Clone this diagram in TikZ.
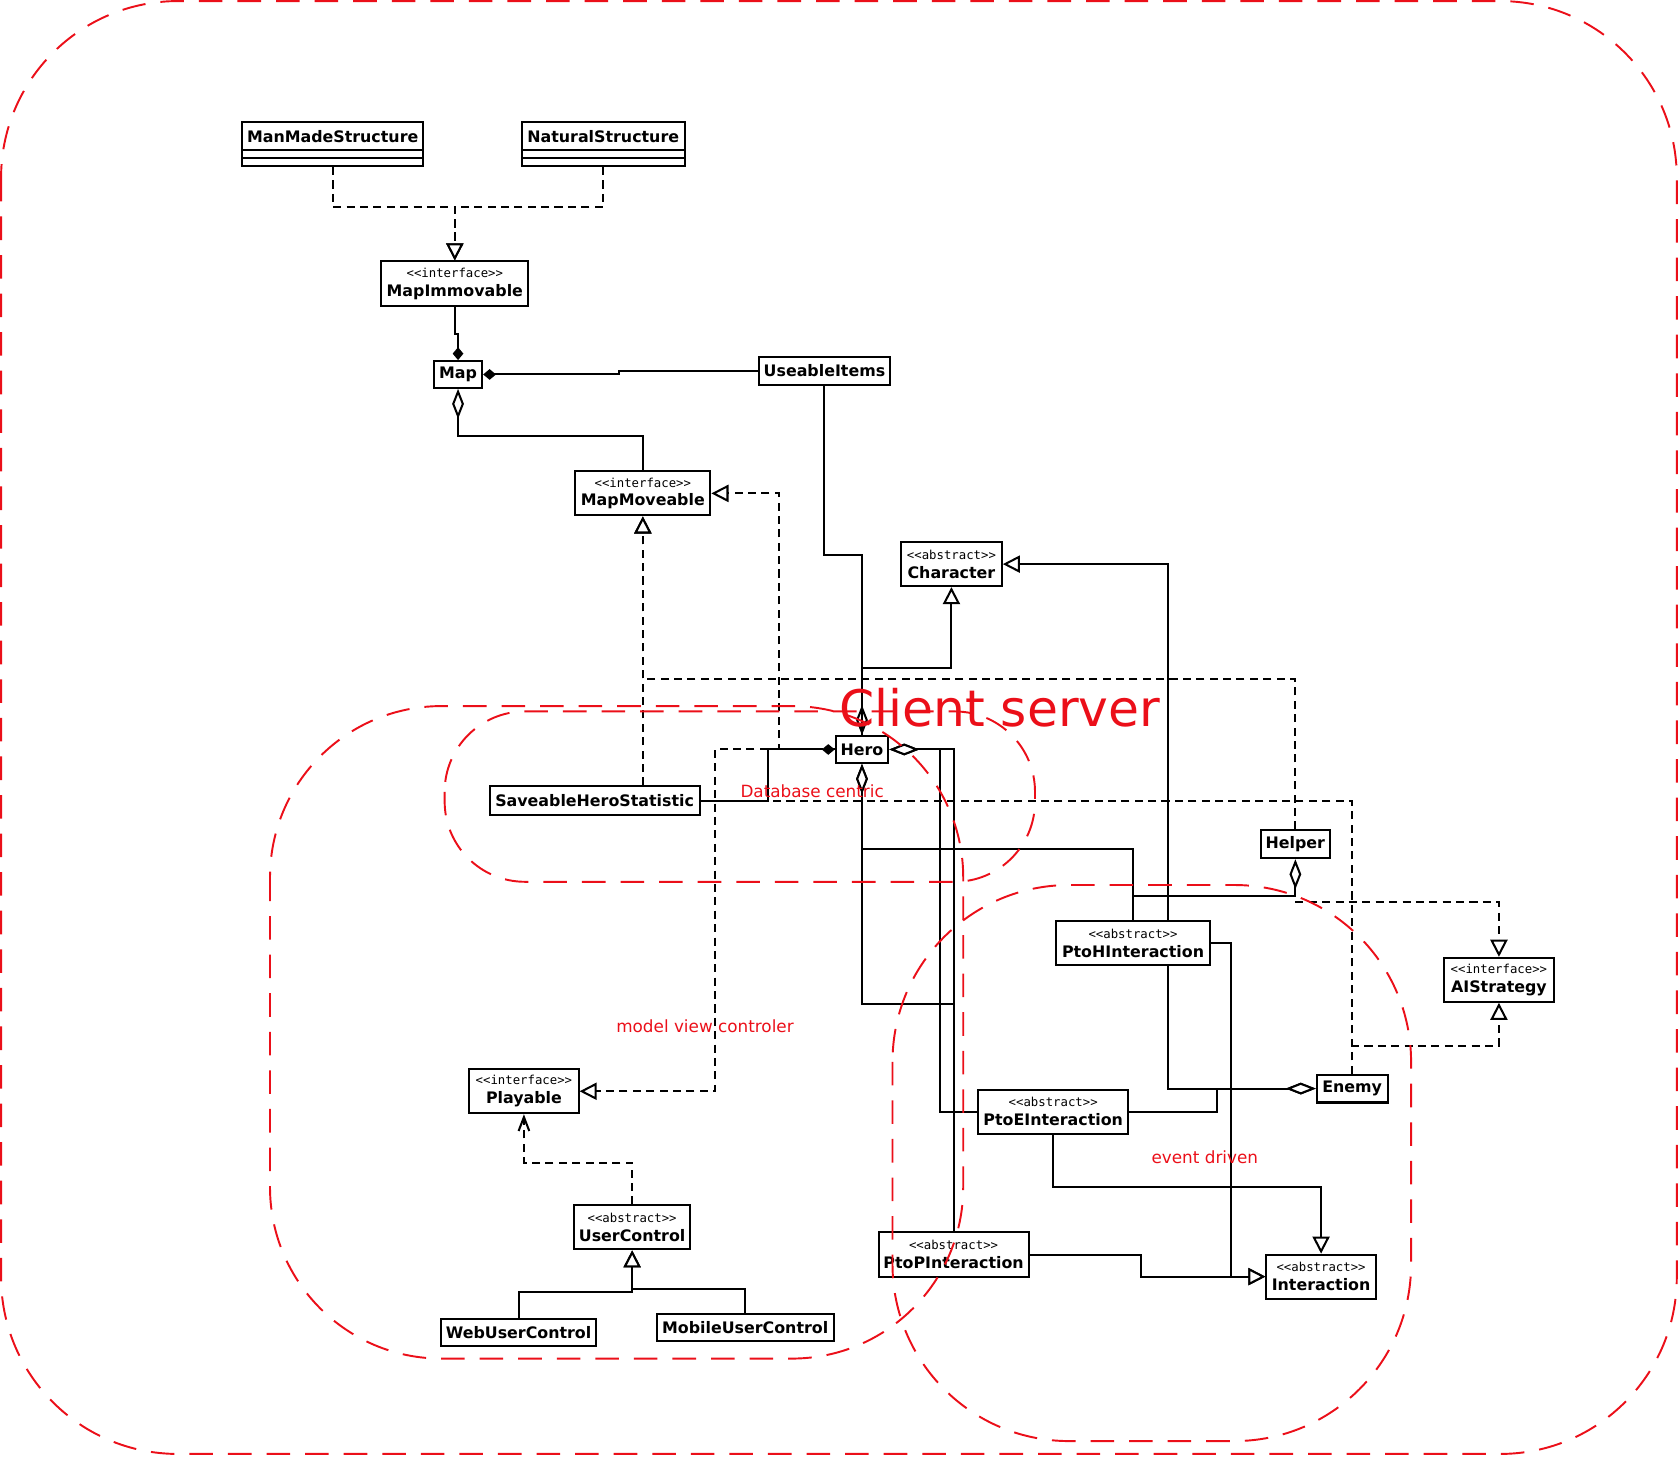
\documentclass[tikz,border=0pt]{standalone}
\usepackage{fontspec}
\setmainfont{DejaVu Sans}
\newfontfamily\stfam{DejaVu Sans Mono}
\usetikzlibrary{arrows.meta,backgrounds}
\definecolor{rd}{RGB}{235,15,25}
\newcommand\stf{\stfam\mdseries\fontsize{11.5}{17.5}\selectfont}
\begin{document}
\begin{tikzpicture}[x=1pt,y=-1pt,
  cls/.style={draw,line width=1.9pt,fill=white,inner sep=0pt,align=center,font=\fontsize{14.8}{17.5}\selectfont\bfseries},
  ln/.style={line width=1.9pt},
  dsh/.style={line width=1.9pt,dash pattern=on 7.5pt off 5pt},
  gen/.style={-{Triangle[length=16pt,width=16pt,fill=white]}},
  comp/.style={-{Diamond[length=12pt,width=10pt]}},
  agg/.style={-{Diamond[length=28pt,width=11pt,fill=white]}},
  dep/.style={-{Straight Barb[length=13pt,width=10pt]}},
  redline/.style={draw=rd,line width=1.8pt,dash pattern=on 22pt off 14pt},
  redtext/.style={text=rd,inner sep=0pt,font=\fontsize{15.7}{18}\selectfont}
]
\useasboundingbox (0,0) rectangle (1568,1360);

% ---------- classes ----------
\node[cls,minimum width=169pt,minimum height=41pt,text height=19pt,text depth=22pt] (mms) at (310.5,134.5) {ManMadeStructure};
\node[cls,minimum width=152pt,minimum height=41pt,text height=19pt,text depth=22pt] (ns) at (563,134.5) {NaturalStructure};
\draw[ln] ([yshift=-27pt]mms.north west) -- ([yshift=-27pt]mms.north east);
\draw[ln] ([yshift=-34pt]mms.north west) -- ([yshift=-34pt]mms.north east);
\draw[ln] ([yshift=-27pt]ns.north west) -- ([yshift=-27pt]ns.north east);
\draw[ln] ([yshift=-34pt]ns.north west) -- ([yshift=-34pt]ns.north east);

\node[cls,minimum width=137pt,minimum height=42pt] (mi) at (424.5,265) {{\stf <<interface>>}\\MapImmovable};
\node[cls,minimum width=45pt,minimum height=25pt] (map) at (427.5,349.5) {Map};
\node[cls,minimum width=123pt,minimum height=26pt] (ui) at (769.5,346) {UseableItems};
\node[cls,minimum width=126pt,minimum height=41pt] (mm) at (600,460.5) {{\stf <<interface>>}\\MapMoveable};
\node[cls,minimum width=94pt,minimum height=41pt] (ch) at (888,526.5) {{\stf <<abstract>>}\\Character};
\node[cls,minimum width=49pt,minimum height=25pt] (hero) at (804.5,699.5) {Hero};
\node[cls,minimum width=196pt,minimum height=27pt] (shs) at (555,747.5) {SaveableHeroStatistic};
\node[cls,minimum width=64pt,minimum height=26pt] (helper) at (1209,788) {Helper};
\node[cls,minimum width=143pt,minimum height=41pt] (ptoh) at (1057.5,880.5) {{\stf <<abstract>>}\\PtoHInteraction};
\node[cls,minimum width=102pt,minimum height=41pt] (ai) at (1399,914.5) {{\stf <<interface>>}\\AIStrategy};
\node[cls,minimum width=66pt,minimum height=26pt] (enemy) at (1262,1016) {Enemy};
\node[cls,minimum width=140pt,minimum height=41pt] (ptoe) at (983,1037.5) {{\stf <<abstract>>}\\PtoEInteraction};
\node[cls,minimum width=102pt,minimum height=41pt] (play) at (489,1018.5) {{\stf <<interface>>}\\Playable};
\node[cls,minimum width=108pt,minimum height=41pt] (uc) at (590,1145.5) {{\stf <<abstract>>}\\UserControl};
\node[cls,minimum width=140pt,minimum height=42pt] (ptop) at (890,1171) {{\stf <<abstract>>}\\PtoPInteraction};
\node[cls,minimum width=102pt,minimum height=41pt] (inter) at (1233,1191.5) {{\stf <<abstract>>}\\Interaction};
\node[cls,minimum width=144pt,minimum height=25pt] (web) at (484,1243.5) {WebUserControl};
\node[cls,minimum width=165pt,minimum height=26pt] (mob) at (695.5,1239) {MobileUserControl};

% ---------- connectors ----------
\begin{scope}[on background layer]
\draw[dsh,gen] (mms.south) -- ++(0,37) -| (mi.north);
\draw[dsh,gen] (ns.south) -- ++(0,37) -| (mi.north);
\draw[ln,comp] (mi.south) -- ++(0,25) -| (map.north);
\draw[ln,comp] (ui.west) -| (578,349.5) -- (map.east);
\draw[ln,agg] (mm.north) -- ++(0,-32) -| (map.south);
\draw[dsh,gen] (hero.west) -- ++(-52,0) |- (mm.east);
\draw[dsh,gen] (hero.west) -- ++(-112,0) |- (play.east);
\draw[ln,comp] (shs.east) -- ++(63,0) |- (hero.west);
\draw[dsh,gen] (shs.north -| mm.south) -- (mm.south);
\draw[dsh,gen] (helper.north) -- ++(0,-140) -| (mm.south);
\draw[dsh] (enemy.north) |- (shs.east);
\draw[ln,agg] (ui.south) -- ++(0,158) -| (hero.north);
\draw[ln,gen] (hero.north) -- ++(0,-63) -| (ch.south);
\draw[ln,gen] ([xshift=32.5pt]ptoh.north) |- (ch.east);
\draw[ln,agg] ([xshift=32.5pt]ptoh.south) |- (enemy.west);
\draw[ln,agg] (ptoe.east) -- ++(82,0) |- (enemy.west);
\draw[ln,agg] (ptoh.north) -- ++(0,-67) -| (hero.south);
\draw[ln,agg] (ptop.north) -- ++(0,-212) -| (hero.south);
\draw[ln,agg] (ptop.north) |- (hero.east);
\draw[ln,agg] (ptoe.west) -- ++(-35,0) |- (hero.east);
\draw[ln,agg] (ptoh.north) -- ++(0,-23) -| (helper.south);
\draw[dsh,gen] ([yshift=-40pt]helper.south) -| (ai.north);
\draw[dsh,gen] (enemy.north) -- ++(0,-26) -| (ai.south);
\draw[ln,gen] (ptoe.south) -- ++(0,49) -| (inter.north);
\draw[ln,gen] (ptop.east) -- ++(104,0) |- (inter.west);
\draw[ln,gen] (ptoh.east) -- ++(19,0) |- (inter.west);
\draw[dsh,dep] (uc.north) -- ++(0,-39) -| (play.south);
\draw[ln,gen] (web.north) -- ++(0,-24.5) -| (uc.south);
\draw[ln,gen] (mob.north) -- ++(0,-22) -| (uc.south);
\end{scope}

% ---------- red regions ----------
\draw[redline,rounded corners=165pt] (1,1) rectangle (1565,1357);
\draw[redline,rounded corners=75pt] (415,664) rectangle (966,823);
\draw[redline,rounded corners=160pt] (252,659) rectangle (899,1268);
\draw[redline,rounded corners=165pt] (833,826) rectangle (1317,1345);

\node[redtext,font=\fontsize{47}{56}\selectfont,anchor=base west] (cs) at (783,678) {Client server};
\node[redtext,anchor=base] (db) at (758,744) {Database centric};
\node[redtext,anchor=base] (mvc) at (658,964) {model view controler};
\node[redtext,anchor=base] (ev) at (1124.5,1085.5) {event driven};
\end{tikzpicture}
\end{document}
